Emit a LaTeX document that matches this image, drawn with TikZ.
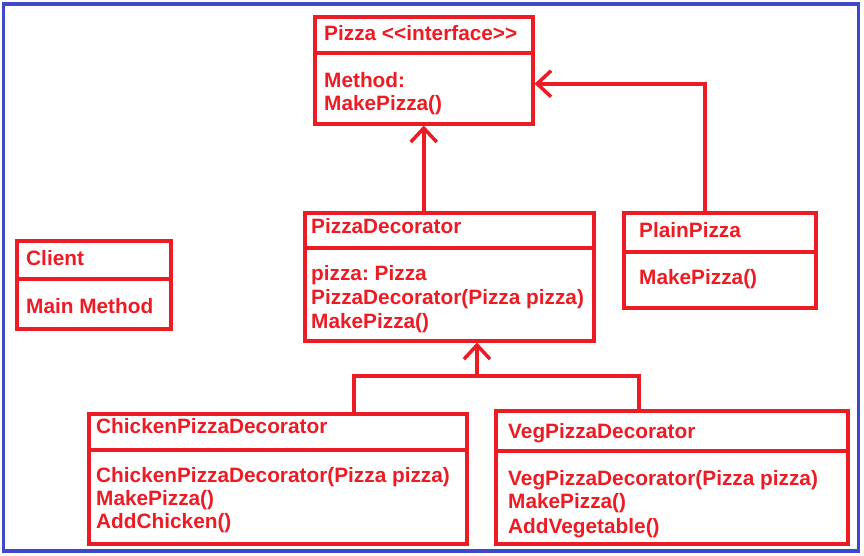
\documentclass[tikz,border=0pt]{standalone}
\usepackage{fontspec}
\setmainfont{Liberation Sans}
\usetikzlibrary{arrows.meta}
\definecolor{pred}{RGB}{237,28,36}
\definecolor{pblue}{RGB}{63,72,204}
\frenchspacing
\tikzset{
  box/.style={draw=pred, line width=3.5pt, rectangle, anchor=north west, inner sep=0pt},
  divider/.style={draw=pred, line width=3.5pt},
  txt/.style={anchor=base west, inner sep=0pt, text=pred, font=\fontsize{20.8}{24}\selectfont\bfseries},
  conn/.style={draw=pred, line width=3.5pt},
  arr/.style={conn, -{Straight Barb[length=14pt, width=26pt, line width=3.5pt]}}
}
\begin{document}
\begin{tikzpicture}[x=1pt, y=-1pt]
\useasboundingbox (0,0) rectangle (864,555);
\fill[white] (0,0) rectangle (864,555);
\draw[pblue, line width=3.5pt] (3.5,4) rectangle (858.5,551);

% Pizza interface
\node[box, minimum width=218pt, minimum height=107pt] (pizza) at (313,15) {};
\draw[divider] (pizza.west |- 0,53) -- (pizza.east |- 0,53);
\node[txt] (pizza-t) at (324,40) {Pizza <{}<interface>{}>};
\node[txt] (pizza-m1) at (324,87) {Method:};
\node[txt] (pizza-m2) at (324,110) {MakePizza()};

% PizzaDecorator
\node[box, minimum width=289pt, minimum height=128pt] (pdec) at (303,211) {};
\draw[divider] (pdec.west |- 0,248) -- (pdec.east |- 0,248);
\node[txt] (pdec-t) at (311,233) {PizzaDecorator};
\node[txt] (pdec-m1) at (311,280) {pizza: Pizza};
\node[txt] (pdec-m2) at (311,304) {PizzaDecorator(Pizza pizza)};
\node[txt] (pdec-m3) at (311,328) {MakePizza()};

% PlainPizza
\node[box, minimum width=192pt, minimum height=95pt] (plain) at (622,211) {};
\draw[divider] (plain.west |- 0,252) -- (plain.east |- 0,252);
\node[txt] (plain-t) at (639,237) {PlainPizza};
\node[txt] (plain-m1) at (639,284) {MakePizza()};

% Client
\node[box, minimum width=154pt, minimum height=88pt] (client) at (15,239) {};
\draw[divider] (client.west |- 0,279) -- (client.east |- 0,279);
\node[txt] (client-t) at (26,265) {Client};
\node[txt] (client-m1) at (26,313) {Main Method};

% ChickenPizzaDecorator
\node[box, minimum width=378pt, minimum height=130pt] (chick) at (87,412) {};
\draw[divider] (chick.west |- 0,450) -- (chick.east |- 0,450);
\node[txt] (chick-t) at (96,433) {ChickenPizzaDecorator};
\node[txt] (chick-m1) at (96,482) {ChickenPizzaDecorator(Pizza pizza)};
\node[txt] (chick-m2) at (96,505) {MakePizza()};
\node[txt] (chick-m3) at (96,528) {AddChicken()};

% VegPizzaDecorator
\node[box, minimum width=352pt, minimum height=133pt] (veg) at (494,409) {};
\draw[divider] (veg.west |- 0,451) -- (veg.east |- 0,451);
\node[txt] (veg-t) at (508,438) {VegPizzaDecorator};
\node[txt] (veg-m1) at (508,485) {VegPizzaDecorator(Pizza pizza)};
\node[txt] (veg-m2) at (508,508) {MakePizza()};
\node[txt] (veg-m3) at (508,533) {AddVegetable()};

% connectors
\draw[arr] (pizza.south |- pdec.north) -- (pizza.south);
\draw[arr] ([xshift=-15pt]plain.north) |- ([yshift=-13.5pt]pizza.east);
\coordinate (branch) at (477,376);
\coordinate (chick-in) at (354,376);
\coordinate (veg-in) at (639,376);
\draw[conn] (chick-in |- chick.north) -- (chick-in) -- (veg-in) -- (veg-in |- veg.north);
\draw[arr] (branch) -- (branch |- pdec.south);
\end{tikzpicture}
\end{document}
